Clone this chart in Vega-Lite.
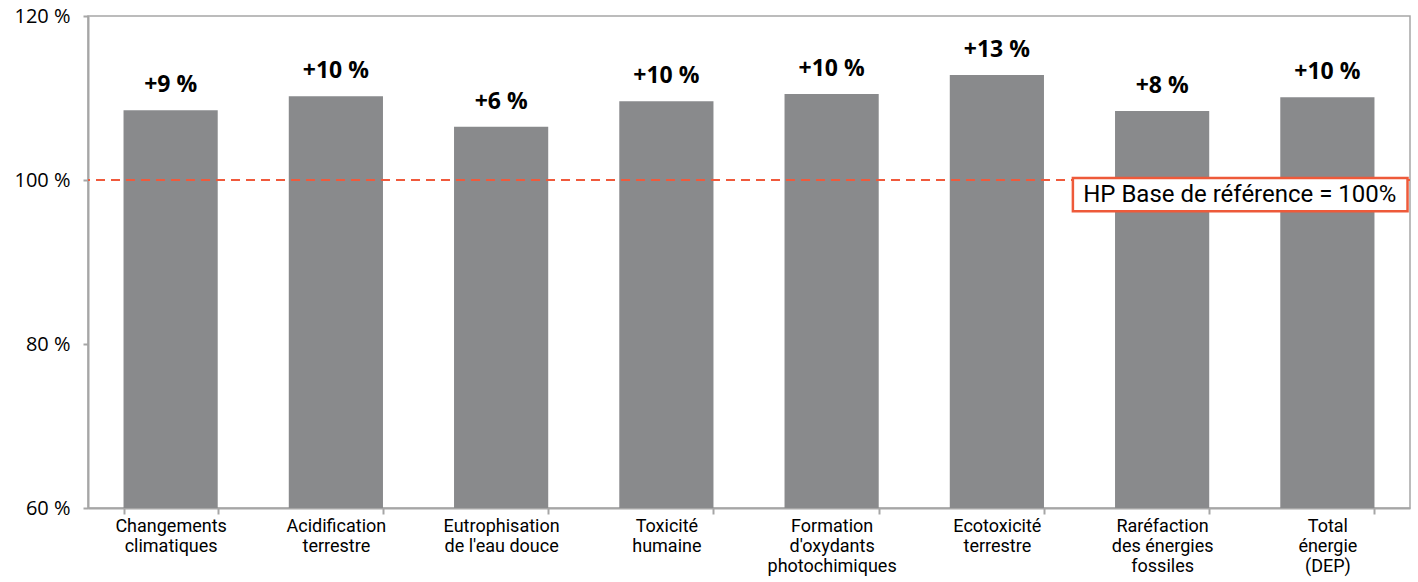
{
  "$schema": "https://vega.github.io/schema/vega-lite/v6.json",
  "width": 1322,
  "height": 492,
  "autosize": "none",
  "padding": {"left": 88, "top": 16, "right": 8, "bottom": 74},
  "background": "white",
  "config": {
    "view": {"stroke": "#A6A6A6", "strokeWidth": 1.5},
    "font": "Roboto, sans-serif"
  },
  "data": {
    "values": [
      {"cat": "Changements\nclimatiques", "value": 108.5, "label": "+9 %"},
      {"cat": "Acidification\nterrestre", "value": 110.2, "label": "+10 %"},
      {"cat": "Eutrophisation\nde l'eau douce", "value": 106.5, "label": "+6 %"},
      {"cat": "Toxicité\nhumaine", "value": 109.6, "label": "+10 %"},
      {"cat": "Formation\nd'oxydants\nphotochimiques", "value": 110.5, "label": "+10 %"},
      {"cat": "Ecotoxicité\nterrestre", "value": 112.8, "label": "+13 %"},
      {"cat": "Raréfaction\ndes énergies\nfossiles", "value": 108.4, "label": "+8 %"},
      {"cat": "Total\nénergie\n(DEP)", "value": 110.1, "label": "+10 %"}
    ]
  },
  "layer": [
    {
      "layer": [
        {
          "mark": {"type": "bar", "color": "#898A8C"},
          "encoding": {
            "x": {
              "field": "cat", "type": "nominal", "sort": null,
              "scale": {"paddingInner": 0.43, "paddingOuter": 0.215},
              "axis": {
                "title": null, "labelAngle": 0, "tickBand": "extent", "labelOverlap": false,
                "labelExpr": "split(datum.label, '\\n')",
                "labelFont": "Roboto, sans-serif", "labelFontSize": 18, "labelLineHeight": 20,
                "labelColor": "#000000", "labelPadding": 3, "labelBaseline": "top",
                "domainColor": "#A6A6A6", "domainWidth": 2, "tickColor": "#A6A6A6", "tickWidth": 2, "tickSize": 6,
                "grid": false
              }
            },
            "y": {
              "field": "value", "type": "quantitative",
              "scale": {"domain": [60, 120], "zero": false, "nice": false},
              "axis": {
                "title": null, "values": [60, 80, 100, 120], "labelExpr": "datum.value + ' %'",
                "labelFont": "Open Sans", "labelFontSize": 20, "labelColor": "#000000", "labelPadding": 13,
                "domainColor": "#A6A6A6", "domainWidth": 2, "tickColor": "#A6A6A6", "tickWidth": 2, "tickSize": 5,
                "grid": false
              }
            },
            "y2": {"datum": 60}
          }
        },
        {
          "mark": {"type": "text", "font": "Open Sans", "fontWeight": "bold", "fontSize": 23, "baseline": "alphabetic", "dy": -18, "color": "#000000"},
          "encoding": {
            "x": {"field": "cat", "type": "nominal", "sort": null},
            "y": {"field": "value", "type": "quantitative"},
            "text": {"field": "label"}
          }
        },
        {
          "mark": {"type": "rule", "color": "#F05A3C", "strokeWidth": 2.2, "strokeDash": [9, 6]},
          "encoding": {"y": {"datum": 100}}
        }
      ]
    },
    {
      "data": {"values": [{"text": "HP Base de référence = 100%"}]},
      "layer": [
        {
          "mark": {"type": "rect", "fill": "white", "stroke": "#EE5A3A", "strokeWidth": 2.5},
          "encoding": {
            "x": {"datum": 5.96, "type": "quantitative", "scale": {"domain": [0, 8], "nice": false, "zero": false}, "axis": null},
            "x2": {"datum": 7.985},
            "y": {"datum": 100.25, "type": "quantitative"},
            "y2": {"datum": 96.2}
          }
        },
        {
          "mark": {"type": "text", "font": "Roboto, sans-serif", "fontSize": 24, "color": "#000000", "align": "center", "baseline": "middle"},
          "encoding": {
            "x": {"datum": 6.97, "type": "quantitative", "scale": {"domain": [0, 8], "nice": false, "zero": false}, "axis": null},
            "y": {"datum": 98.2, "type": "quantitative"},
            "text": {"field": "text"}
          }
        }
      ]
    }
  ],
  "resolve": {"scale": {"x": "independent"}}
}
